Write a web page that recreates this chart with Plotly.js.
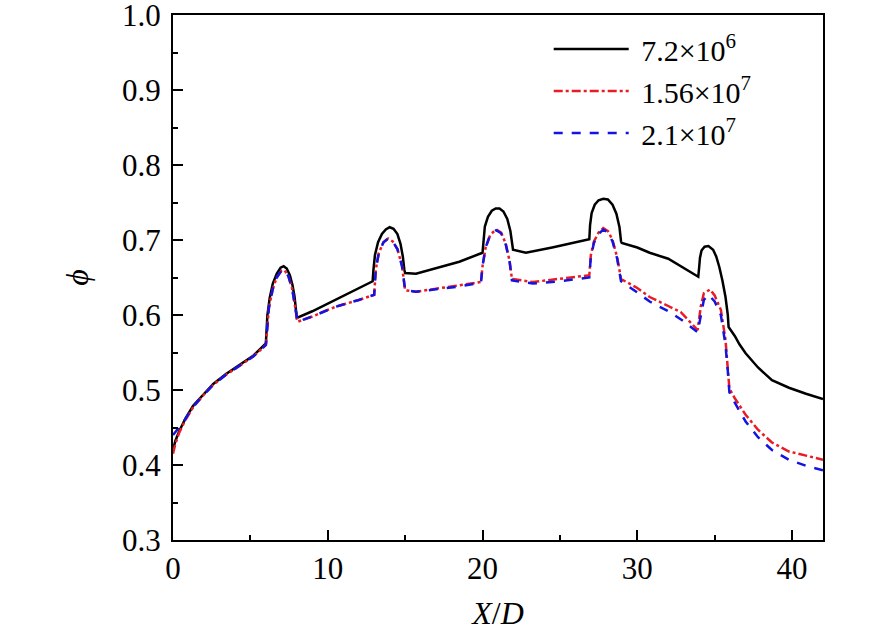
<!DOCTYPE html>
<html>
<head>
<meta charset="utf-8">
<script src="https://cdn.plot.ly/plotly-3.0.1.min.js"></script>
<style>
  html, body { margin: 0; padding: 0; background: #fff; }
  #chart { width: 886px; height: 634px; }
</style>
</head>
<body>
<div id="chart"></div>
<script>
// Re = 7.2e6
var xBlack = [0, 0.15, 0.4, 0.8, 1.3, 2.0, 2.6, 3.4, 4.3, 5.2, 6.0,
  6.02, 6.1, 6.25, 6.45, 6.7, 6.95, 7.15, 7.35, 7.55, 7.72, 7.85, 7.95, 8.0,
  9.0, 10.3, 11.5, 12.9,
  12.95, 13.05, 13.25, 13.5, 13.75, 14.0, 14.25, 14.5, 14.7, 14.85, 14.95, 15.0,
  15.7, 17.0, 18.5, 20.0,
  20.05, 20.15, 20.35, 20.6, 20.85, 21.1, 21.35, 21.6, 21.8, 21.92, 21.97,
  22.8, 24.5, 26.9,
  26.95, 27.05, 27.25, 27.5, 27.8, 28.1, 28.4, 28.65, 28.85, 28.95, 29.0,
  30.0, 30.8, 32.0, 32.9, 33.94,
  34.0, 34.05, 34.15, 34.35, 34.6, 34.9, 35.1, 35.3, 35.5, 35.7, 35.85, 35.9,
  36.3, 36.6, 37.0, 37.8, 38.7, 39.8, 40.9, 42.0];
var yBlack = [0.42, 0.432, 0.445, 0.462, 0.479, 0.495, 0.508, 0.521, 0.533, 0.546, 0.562,
  0.575, 0.600, 0.623, 0.642, 0.655, 0.663, 0.665, 0.662, 0.653, 0.640, 0.625, 0.605, 0.596,
  0.605, 0.618, 0.631, 0.645,
  0.660, 0.680, 0.697, 0.708, 0.714, 0.717, 0.715, 0.708, 0.695, 0.678, 0.660, 0.656,
  0.655, 0.662, 0.671, 0.683,
  0.700, 0.718, 0.731, 0.739, 0.742, 0.742, 0.738, 0.728, 0.712, 0.695, 0.687,
  0.683, 0.690, 0.701,
  0.720, 0.736, 0.747, 0.753, 0.755, 0.754, 0.747, 0.735, 0.717, 0.698, 0.696,
  0.690, 0.683, 0.675, 0.664, 0.651,
  0.664, 0.676, 0.686, 0.691, 0.692, 0.687, 0.678, 0.664, 0.646, 0.624, 0.600, 0.584,
  0.572, 0.561, 0.549, 0.530, 0.513, 0.503, 0.495, 0.488];

// Re = 1.56e7
var xRed = [0, 0.15, 0.4, 0.8, 1.3, 2.0, 2.6, 3.4, 4.3, 5.2, 6.0,
  6.05, 6.2, 6.45, 6.7, 7.0, 7.2, 7.45, 7.7, 7.9, 8.05,
  9.0, 10.5, 12.0, 13.0,
  13.1, 13.3, 13.6, 13.9, 14.2, 14.5, 14.8, 14.95, 15.0,
  15.7, 17.0, 18.5, 19.9,
  20.0, 20.2, 20.5, 20.88, 21.2, 21.5, 21.75, 21.9,
  23.25, 25.0, 26.9,
  27.0, 27.2, 27.5, 27.8, 28.1, 28.4, 28.7, 28.9, 28.95,
  30.0, 30.8, 32.0, 32.8, 33.9,
  34.1, 34.3, 34.7, 35.0, 35.4, 35.7, 35.85, 35.95,
  36.3, 36.6, 37.0, 37.8, 38.7, 39.8, 40.9, 42.0];
var yRed = [0.415, 0.428, 0.443, 0.460, 0.477, 0.494, 0.507, 0.520, 0.532, 0.545, 0.560,
  0.575, 0.610, 0.635, 0.650, 0.659, 0.660, 0.652, 0.635, 0.610, 0.591,
  0.598, 0.611, 0.620, 0.627,
  0.660, 0.683, 0.697, 0.702, 0.698, 0.688, 0.665, 0.640, 0.633,
  0.631, 0.635, 0.640, 0.644,
  0.665, 0.690, 0.707, 0.714, 0.710, 0.695, 0.672, 0.648,
  0.644, 0.648, 0.653,
  0.680, 0.698, 0.710, 0.716, 0.712, 0.700, 0.677, 0.655, 0.648,
  0.636, 0.624, 0.612, 0.604, 0.580,
  0.611, 0.629, 0.634, 0.626, 0.607, 0.567, 0.530, 0.502,
  0.489, 0.480, 0.467, 0.447, 0.430, 0.418, 0.412, 0.407];

// Re = 2.1e7
var xBlue = [0, 0.3, 0.7, 1.3, 2.0, 2.6, 3.4, 4.3, 5.2, 6.0,
  6.05, 6.2, 6.45, 6.7, 7.0, 7.2, 7.45, 7.7, 7.9, 8.05,
  9.0, 10.5, 12.0, 13.0,
  13.1, 13.3, 13.6, 13.9, 14.2, 14.5, 14.8, 14.95, 15.0,
  15.7, 17.0, 18.5, 19.9,
  20.0, 20.2, 20.5, 20.88, 21.2, 21.5, 21.75, 21.9,
  23.25, 25.0, 26.9,
  27.0, 27.2, 27.5, 27.8, 28.1, 28.4, 28.7, 28.9, 28.95,
  30.0, 30.8, 32.0, 32.9, 33.9,
  34.1, 34.3, 34.6, 35.0, 35.4, 35.7, 35.85, 35.95,
  36.3, 36.6, 37.0, 37.8, 38.7, 39.8, 40.9, 42.0];
var yBlue = [0.44, 0.448, 0.458, 0.478, 0.494, 0.507, 0.520, 0.532, 0.545, 0.560,
  0.575, 0.610, 0.635, 0.650, 0.659, 0.660, 0.652, 0.635, 0.610, 0.591,
  0.598, 0.611, 0.620, 0.627,
  0.660, 0.683, 0.697, 0.702, 0.698, 0.688, 0.665, 0.640, 0.633,
  0.631, 0.634, 0.638, 0.643,
  0.665, 0.690, 0.707, 0.713, 0.709, 0.694, 0.671, 0.646,
  0.642, 0.645, 0.650,
  0.678, 0.696, 0.708, 0.714, 0.710, 0.698, 0.675, 0.652, 0.645,
  0.630, 0.618, 0.605, 0.593, 0.577,
  0.600, 0.620, 0.627, 0.618, 0.600, 0.560, 0.525, 0.497,
  0.483, 0.473, 0.458, 0.437, 0.420, 0.407, 0.399, 0.393];

var seriesNames = ['\u00a07.2×10<sup>6</sup>', '\u00a01.56×10<sup>7</sup>', '\u00a02.1×10<sup>7</sup>'];
var yTicks = [0.3, 0.4, 0.5, 0.6, 0.7, 0.8, 0.9, 1.0];
var xTicks = [0, 10, 20, 30, 40];

var serif = '"Liberation Serif", "Times New Roman", serif';

var data = [
  {
    x: xBlack, y: yBlack, type: 'scatter', mode: 'lines',
    name: seriesNames[0],
    line: {color: '#000000', width: 2.5}
  },
  {
    x: xRed, y: yRed, type: 'scatter', mode: 'lines',
    name: seriesNames[1],
    line: {color: 'rgb(232,28,36)', width: 2.5, dash: 'dashdot'}
  },
  {
    x: xBlue, y: yBlue, type: 'scatter', mode: 'lines',
    name: seriesNames[2],
    line: {color: 'rgb(20,20,225)', width: 2.5, dash: 'dash'}
  }
];

var layout = {
  width: 886,
  height: 634,
  margin: {l: 173, r: 63, t: 15, b: 94},
  paper_bgcolor: '#ffffff',
  plot_bgcolor: '#ffffff',
  font: {family: serif, size: 31, color: '#000'},
  showlegend: true,
  legend: {
    x: 0.578, y: 0.985, xanchor: 'left', yanchor: 'top',
    bgcolor: 'rgba(0,0,0,0)',
    font: {family: serif, size: 30, color: '#000'},
    itemwidth: 75
  },
  xaxis: {
    range: [0, 42],
    tickvals: xTicks,
    ticks: 'inside', ticklen: 10, tickwidth: 2, tickcolor: '#000',
    minor: {ticks: 'inside', ticklen: 5, tickwidth: 2, tickcolor: '#000', dtick: 5, tick0: 0},
    showline: true, linewidth: 2, linecolor: '#000', mirror: true,
    showgrid: false, zeroline: false,
    tickfont: {family: serif, size: 31},
    ticklabeloverflow: 'allow',
    title: {text: '<i>X</i>/<i>D</i>', font: {family: serif, size: 32}, standoff: 16}
  },
  yaxis: {
    range: [0.3, 1.0],
    tickvals: yTicks, tickformat: '.1f',
    ticks: 'inside', ticklen: 10, tickwidth: 2, tickcolor: '#000',
    minor: {ticks: 'inside', ticklen: 5, tickwidth: 2, tickcolor: '#000', dtick: 0.05},
    showline: true, linewidth: 2, linecolor: '#000', mirror: true,
    showgrid: false, zeroline: false,
    tickfont: {family: serif, size: 31},
    ticklabelstandoff: 4,
    ticklabeloverflow: 'allow',
    title: {text: '<i>ϕ</i>', font: {family: serif, size: 32}, standoff: 24}
  }
};

Plotly.newPlot('chart', data, layout, {displayModeBar: false, staticPlot: true});
</script>
</body>
</html>
